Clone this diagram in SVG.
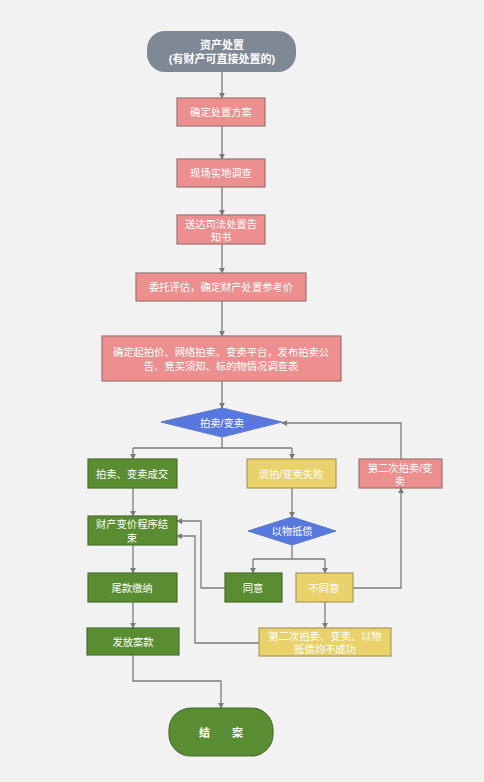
<svg xmlns="http://www.w3.org/2000/svg" width="484" height="782" viewBox="0 0 484 782">
<defs>
<marker id="ah" viewBox="0 0 8 8" refX="7" refY="4" markerWidth="6" markerHeight="6" orient="auto" markerUnits="userSpaceOnUse">
<path d="M0,0 L8,4 L0,8 z" fill="#7a7a7a"/>
</marker>
<style>
text{font-family:"Liberation Sans","Noto Sans CJK SC",sans-serif;font-size:10.3px;fill:#ffffff;text-anchor:middle;dominant-baseline:central}
.b{font-weight:bold;font-size:11px}
.pink{fill:#ee8f8f;stroke:#9a7272;stroke-width:1.2}
.green{fill:#5a8d31;stroke:#4b6f2c;stroke-width:1.2}
.yellow{fill:#e9d26c;stroke:#a89a58;stroke-width:1.2}
.blue{fill:#5878e0;stroke:#5a78c8;stroke-width:1}
.gray{fill:#7f8995}
.ln{fill:none;stroke:#7c7c7c;stroke-width:1.3}
.a{marker-end:url(#ah)}
</style>
</defs>
<rect x="0" y="0" width="484" height="782" fill="#f2f2f2"/>
<g id="connectors">
<path class="ln a" d="M222,72 V98"/>
<path class="ln a" d="M222,126 V159"/>
<path class="ln a" d="M222,187 V215"/>
<path class="ln a" d="M222,244 V273"/>
<path class="ln a" d="M222,301 V336"/>
<path class="ln a" d="M222,381 V408"/>
<path class="ln" d="M222,437 V448 M133,448 H292"/>
<path class="ln a" d="M133,448 V459"/>
<path class="ln a" d="M292,448 V459"/>
<path class="ln a" d="M401,459 V423 H282"/>
<path class="ln a" d="M133,488 V516"/>
<path class="ln a" d="M292,488 V517"/>
<path class="ln" d="M292,545 V559 M253,559 H325"/>
<path class="ln a" d="M253,559 V573"/>
<path class="ln a" d="M325,559 V573"/>
<path class="ln a" d="M225,588 H201 V521 H177"/>
<path class="ln a" d="M353,588 H401 V488"/>
<path class="ln a" d="M325,602 V628"/>
<path class="ln a" d="M259,643 H195 V536 H177"/>
<path class="ln a" d="M133,545 V573"/>
<path class="ln a" d="M133,602 V628"/>
<path class="ln a" d="M133,655 V681 H221 V708"/>
</g>
<g id="start">
<rect class="gray" x="147" y="31" width="149" height="41" rx="18"/>
<text class="b" x="222" y="45">资产处置</text>
<text class="b" x="222" y="59">(有财产可直接处置的)</text>
</g>
<g id="n1"><rect class="pink" x="177" y="98" width="88" height="28"/><text x="221" y="112">确定处置方案</text></g>
<g id="n2"><rect class="pink" x="177" y="159" width="88" height="28"/><text x="221" y="173">现场实地调查</text></g>
<g id="n3"><rect class="pink" x="177" y="215" width="88" height="29"/><text x="221" y="224">送达司法处置告</text><text x="221" y="237">知书</text></g>
<g id="n4"><rect class="pink" x="136" y="273" width="170" height="28"/><text x="221" y="287">委托评估，确定财产处置参考价</text></g>
<g id="n5"><rect class="pink" x="102" y="336" width="239" height="45"/><text x="221" y="352">确定起拍价、网络拍卖、变卖平台，发布拍卖公</text><text x="221" y="366">告、竞买须知、标的物情况调查表</text></g>
<g id="d1"><polygon class="blue" points="161,422 222,408 282,422 222,437"/><text x="222" y="423">拍卖/变卖</text></g>
<g id="n6"><rect class="green" x="88" y="459" width="89" height="29"/><text x="132" y="474">拍卖、变卖成交</text></g>
<g id="n7"><rect class="yellow" x="247" y="459" width="89" height="29"/><text x="291" y="474">流拍/变卖失败</text></g>
<g id="n8"><rect class="pink" x="359" y="459" width="83" height="29"/><text x="400" y="468">第二次拍卖/变</text><text x="400" y="481">卖</text></g>
<g id="n9"><rect class="green" x="88" y="516" width="89" height="29"/><text x="132" y="524">财产变价程序结</text><text x="132" y="538">束</text></g>
<g id="d2"><polygon class="blue" points="248,531 292,517 336,531 292,545"/><text x="292" y="531">以物抵债</text></g>
<g id="n10"><rect class="green" x="225" y="573" width="57" height="29"/><text x="253" y="588">同意</text></g>
<g id="n11"><rect class="yellow" x="296" y="573" width="57" height="29"/><text x="324" y="588">不同意</text></g>
<g id="n12"><rect class="green" x="88" y="573" width="89" height="29"/><text x="132" y="588">尾款缴纳</text></g>
<g id="n13"><rect class="green" x="87" y="628" width="92" height="27"/><text x="133" y="642">发放案款</text></g>
<g id="n14"><rect class="yellow" x="259" y="628" width="132" height="28"/><text x="325" y="636">第二次拍卖、变卖、以物</text><text x="325" y="649">抵债均不成功</text></g>
<g id="end">
<rect class="green" x="169" y="708" width="104" height="48" rx="22" stroke="none"/>
<text class="b" x="221" y="733">结　　案</text>
</g>
</svg>
